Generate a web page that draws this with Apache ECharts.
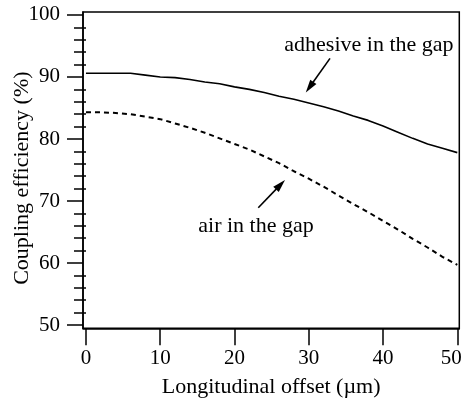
<!DOCTYPE html>
<html><head><meta charset="utf-8">
<script src="https://cdn.jsdelivr.net/npm/echarts@6/dist/echarts.min.js"></script>
<style>html,body{margin:0;padding:0;background:#fff}#c{width:466px;height:401px}</style>
</head><body><div id="c"></div>
<script>
const offsets   = [0,2,4,6,8,10,12,14,16,18,20,22,24,26,28,30,32,34,36,38,40,42,44,46,48,50];
const adhesive  = [90.6,90.6,90.6,90.6,90.3,90.0,89.9,89.6,89.2,88.9,88.4,88.0,87.5,86.9,86.4,85.8,85.2,84.5,83.7,83.0,82.1,81.1,80.1,79.2,78.5,77.8];
const air       = [84.3,84.3,84.2,84.0,83.6,83.2,82.5,81.8,81.0,80.1,79.2,78.3,77.2,76.1,74.8,73.6,72.3,70.9,69.5,68.2,66.8,65.4,63.9,62.5,61.0,59.7];
const xTicks    = [0,10,20,30,40,50];
const yTicks    = [50,60,70,80,90,100];
const yMinor    = [52,54,56,58,62,64,66,68,72,74,76,78,82,84,86,88,92,94,96,98];
const notes = [
  {text:'adhesive in the gap', at:[38.1,95.2], from:[32.86,93.0], to:[29.6,87.5]},
  {text:'air in the gap',      at:[22.9,66.0], from:[23.2,68.9],  to:[26.8,73.4]}
];

const FONT = "'Liberation Serif','Times New Roman',serif";
const chart = echarts.init(document.getElementById('c'), null, {renderer:'canvas'});
const tickStyle = {color:'#000', width:1.5};
chart.setOption({
  animation:false,
  backgroundColor:'#fff',
  grid:{left:83, right:6.7, top:12, bottom:72.7, show:true, borderColor:'#000', borderWidth:1.5, containLabel:false, outerBoundsMode:'none'},
  xAxis:{
    type:'value', min:-0.4, max:50.27,
    axisLine:{show:true, onZero:false, lineStyle:{color:'#000', width:1.5}},
    axisTick:{show:true, length:17, customValues:xTicks, lineStyle:tickStyle},
    axisLabel:{customValues:xTicks, margin:20, fontSize:21, color:'#000', fontFamily:FONT,
      formatter:v=> v===50 ? '{r|50}' : String(v),
      rich:{r:{fontSize:21, color:'#000', fontFamily:FONT, padding:[0,12,0,0]}}},
    splitLine:{show:false},
    name:'Longitudinal offset (\u00b5m)', nameLocation:'middle', nameGap:48, nameMoveOverlap:false,
    nameTextStyle:{fontSize:22, color:'#000', fontFamily:FONT}
  },
  yAxis:[{
    type:'value', min:49.47, max:100.48, position:'left',
    axisLine:{show:true, onZero:false, lineStyle:{color:'#000', width:1.5}},
    axisTick:{show:true, length:16, customValues:yTicks, lineStyle:tickStyle},
    axisLabel:{customValues:yTicks, margin:23, fontSize:21, color:'#000', fontFamily:FONT},
    splitLine:{show:false},
    name:'Coupling efficiency (%)', nameLocation:'middle', nameGap:50, nameMoveOverlap:false,
    nameTextStyle:{fontSize:22, color:'#000', fontFamily:FONT, padding:[0,16,0,0]}
  },{
    type:'value', min:49.47, max:100.48, position:'left', offset:-3,
    axisLine:{show:false},
    axisTick:{show:true, length:12, customValues:yMinor, lineStyle:tickStyle},
    axisLabel:{show:false},
    splitLine:{show:false}
  }],
  series:[{
    type:'line', data:offsets.map((x,i)=>[x,adhesive[i]]), showSymbol:false, symbol:'none',
    lineStyle:{color:'#000', width:1.6}
  },{
    type:'line', data:offsets.map((x,i)=>[x,air[i]]), showSymbol:false, symbol:'none',
    lineStyle:{color:'#000', width:2, type:[5,4]}
  }]
});

const g = [];
notes.forEach(n=>{
  const p = chart.convertToPixel({gridIndex:0}, n.at);
  const a = chart.convertToPixel({gridIndex:0}, n.from);
  const b = chart.convertToPixel({gridIndex:0}, n.to);
  g.push({type:'text', x:p[0], y:p[1], style:{text:n.text, fontSize:22, fontFamily:FONT, fill:'#000', align:'center', verticalAlign:'middle'}});
  const dx=b[0]-a[0], dy=b[1]-a[1], L=Math.hypot(dx,dy), ux=dx/L, uy=dy/L;
  const hl=13, hw=3.8;
  const bx=b[0]-ux*hl, by=b[1]-uy*hl;
  g.push({type:'line', shape:{x1:a[0], y1:a[1], x2:bx+ux*2, y2:by+uy*2}, style:{stroke:'#000', lineWidth:1.6}});
  g.push({type:'polygon', shape:{points:[[b[0],b[1]],[bx-uy*hw,by+ux*hw],[bx+uy*hw,by-ux*hw]]}, style:{fill:'#000'}});
});
chart.setOption({graphic:g});
</script></body></html>
